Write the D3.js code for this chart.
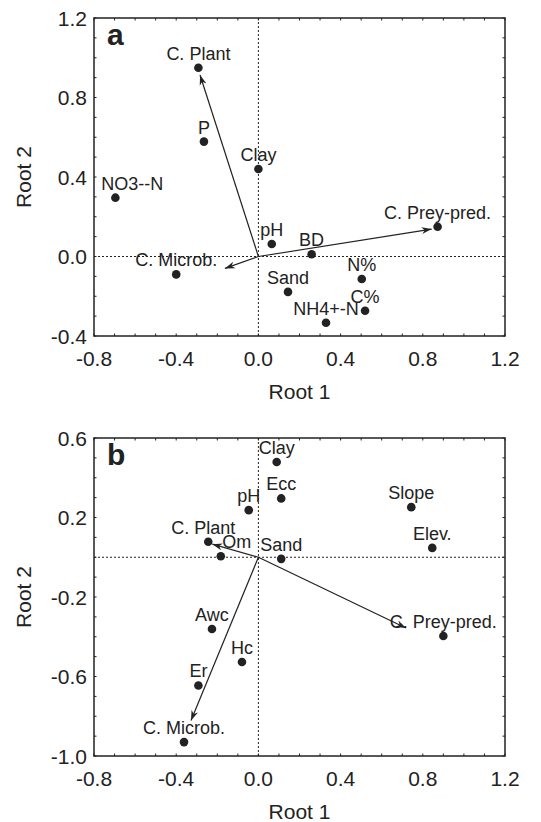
<!DOCTYPE html>
<html>
<head>
<meta charset="utf-8">
<script src="https://cdn.jsdelivr.net/npm/d3@7"></script>
<style>
  body { margin: 0; background: #fff; }
  svg text { font-family: "Liberation Sans", Arial, sans-serif; fill: #222; }
</style>
</head>
<body>
<div id="chart"></div>
<script>
// Panel a: variables (points) and group vectors (arrows)
const labelsA = ['C. Plant', 'P', 'Clay', 'NO3--N', 'C. Prey-pred.', 'pH', 'BD', 'C. Microb.', 'N%', 'Sand', 'C%', 'NH4+-N'];
const root1A = [-0.292, -0.265, 0.0, -0.696, 0.872, 0.065, 0.259, -0.40, 0.503, 0.144, 0.519, 0.329];
const root2A = [0.95, 0.578, 0.44, 0.296, 0.15, 0.063, 0.011, -0.09, -0.113, -0.178, -0.273, -0.333];
const arrowNamesA = ['C. Plant', 'C. Prey-pred.', 'C. Microb.'];
const arrowX_A = [-0.284, 0.843, -0.163];
const arrowY_A = [0.913, 0.138, -0.06];

// Panel b
const labelsB = ['Clay', 'Ecc', 'pH', 'Slope', 'C. Plant', 'Om', 'Sand', 'Elev.', 'Awc', 'Hc', 'Er', 'C. Microb.', 'C. Prey-pred.'];
const root1B = [0.089, 0.111, -0.047, 0.744, -0.244, -0.183, 0.111, 0.846, -0.226, -0.08, -0.292, -0.362, 0.90];
const root2B = [0.479, 0.296, 0.237, 0.252, 0.078, 0.005, -0.008, 0.047, -0.361, -0.527, -0.645, -0.930, -0.396];
const arrowNamesB = ['C. Plant', 'C. Prey-pred.', 'C. Microb.'];
const arrowX_B = [-0.224, 0.718, -0.328];
const arrowY_B = [0.066, -0.356, -0.821];

const xTicks = [-0.8, -0.4, 0.0, 0.4, 0.8, 1.2];
const yTicksA = [-0.4, 0.0, 0.4, 0.8, 1.2];
const yTicksB = [-1.0, -0.6, -0.2, 0.2, 0.6];

const width = 541, height = 822;
const ink = '#222';
// plain hyphen for negatives, like the original
const fmt = d => d3.format('.1f')(d).replace('\u2212', '-');

const svg = d3.select('#chart').append('svg')
  .attr('width', width)
  .attr('height', height);

// arrow head, notched like the original
svg.append('defs').append('marker')
  .attr('id', 'head')
  .attr('viewBox', '0 0 10 8')
  .attr('refX', 10)
  .attr('refY', 4)
  .attr('markerWidth', 10)
  .attr('markerHeight', 8)
  .attr('markerUnits', 'userSpaceOnUse')
  .attr('orient', 'auto')
  .append('path')
  .attr('d', 'M0,0.5 L10,4 L0,7.5 L3,4 Z')
  .attr('fill', ink);

// label nudges where the original moved labels off-centre
const nudge = { 'a:NO3--N': 17, 'b:Om': 16, 'b:C. Plant': -5 };

function drawPanel(opts) {
  const left = 94, right = 505;
  const x = d3.scaleLinear().domain([-0.8, 1.2]).range([left, right]);
  const y = d3.scaleLinear().domain(opts.yDomain).range([opts.bottom, opts.top]);
  const g = svg.append('g');

  // minor ticks every 0.1, inward, all four sides
  const xMinor = d3.range(-8, 13).map(d => d / 10);
  const yMinor = d3.range(Math.round(opts.yDomain[0] * 10), Math.round(opts.yDomain[1] * 10) + 1).map(d => d / 10);
  const tl = 2.5;
  g.append('g').selectAll('line').data(xMinor).join('line')
    .attr('x1', d => x(d)).attr('x2', d => x(d))
    .attr('y1', opts.bottom).attr('y2', opts.bottom - tl)
    .attr('stroke', ink).attr('stroke-width', 1);
  g.append('g').selectAll('line').data(xMinor).join('line')
    .attr('x1', d => x(d)).attr('x2', d => x(d))
    .attr('y1', opts.top).attr('y2', opts.top + tl)
    .attr('stroke', ink).attr('stroke-width', 1);
  g.append('g').selectAll('line').data(yMinor).join('line')
    .attr('x1', left).attr('x2', left + tl)
    .attr('y1', d => y(d)).attr('y2', d => y(d))
    .attr('stroke', ink).attr('stroke-width', 1);
  g.append('g').selectAll('line').data(yMinor).join('line')
    .attr('x1', right).attr('x2', right - tl)
    .attr('y1', d => y(d)).attr('y2', d => y(d))
    .attr('stroke', ink).attr('stroke-width', 1);

  // zero reference lines
  g.append('line')
    .attr('x1', x(0)).attr('x2', x(0))
    .attr('y1', opts.top).attr('y2', opts.bottom)
    .attr('stroke', ink).attr('stroke-width', 1).attr('stroke-dasharray', '2,2');
  g.append('line')
    .attr('x1', left).attr('x2', right)
    .attr('y1', y(0)).attr('y2', y(0))
    .attr('stroke', ink).attr('stroke-width', 1).attr('stroke-dasharray', '2,2');

  // frame
  g.append('rect')
    .attr('x', left).attr('y', opts.top)
    .attr('width', right - left).attr('height', opts.bottom - opts.top)
    .attr('fill', 'none').attr('stroke', ink).attr('stroke-width', 1.5);

  // tick labels
  g.append('g').selectAll('text').data(xTicks).join('text')
    .attr('x', d => x(d)).attr('y', opts.bottom + 30)
    .attr('text-anchor', 'middle')
    .attr('font-size', 21)
    .text(fmt);
  g.append('g').selectAll('text').data(opts.yTicks).join('text')
    .attr('x', left - 7).attr('y', d => y(d))
    .attr('dy', '0.36em')
    .attr('text-anchor', 'end')
    .attr('font-size', 21)
    .text(fmt);

  // axis titles
  g.append('text')
    .attr('x', (left + right) / 2).attr('y', opts.bottom + 63)
    .attr('text-anchor', 'middle').attr('font-size', 21)
    .text('Root 1');
  g.append('text')
    .attr('transform', `translate(31, ${(opts.top + opts.bottom) / 2}) rotate(-90)`)
    .attr('text-anchor', 'middle').attr('font-size', 21)
    .text('Root 2');

  // panel letter
  g.append('text')
    .attr('x', 107).attr('y', opts.top + 27)
    .attr('font-size', 30).attr('font-weight', 'bold')
    .text(opts.letter);

  // arrows from origin
  g.append('g').selectAll('line').data(opts.arrowX).join('line')
    .attr('x1', x(0)).attr('y1', y(0))
    .attr('x2', d => x(d)).attr('y2', (d, i) => y(opts.arrowY[i]))
    .attr('stroke', ink).attr('stroke-width', 1.2)
    .attr('marker-end', 'url(#head)');

  // points
  const pts = opts.labels.map((name, i) => ({ name, rx: opts.px[i], ry: opts.py[i] }));
  g.append('g').selectAll('circle').data(pts).join('circle')
    .attr('cx', d => x(d.rx)).attr('cy', d => y(d.ry))
    .attr('r', 4.3).attr('fill', ink);
  g.append('g').selectAll('text').data(pts).join('text')
    .attr('x', d => x(d.rx) + (nudge[opts.letter + ':' + d.name] || 0))
    .attr('y', d => y(d.ry) - 8)
    .attr('text-anchor', 'middle')
    .attr('font-size', 18)
    .text(d => d.name);
}

drawPanel({
  letter: 'a', top: 18, bottom: 336, yDomain: [-0.4, 1.2], yTicks: yTicksA,
  labels: labelsA, px: root1A, py: root2A, arrowX: arrowX_A, arrowY: arrowY_A
});
drawPanel({
  letter: 'b', top: 438, bottom: 756, yDomain: [-1.0, 0.6], yTicks: yTicksB,
  labels: labelsB, px: root1B, py: root2B, arrowX: arrowX_B, arrowY: arrowY_B
});
</script>
</body>
</html>
